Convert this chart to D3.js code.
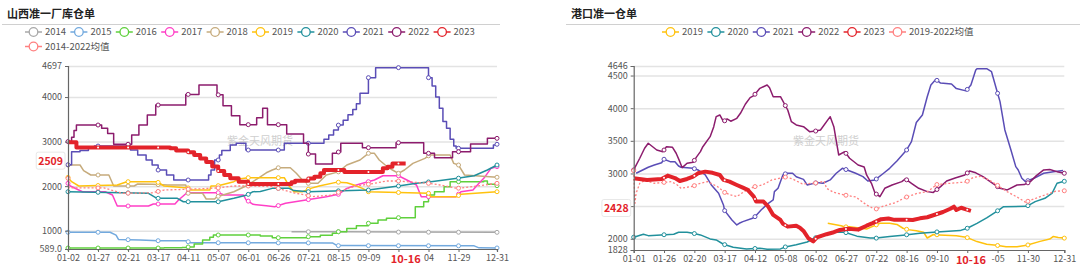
<!DOCTYPE html>
<html>
<head>
<meta charset="utf-8">
<script src="https://cdn.jsdelivr.net/npm/d3@7"></script>
<style>
  body { margin: 0; background: #fff; }
  svg { display: block; font-family: "Noto Sans CJK SC", "Noto Sans", sans-serif; }
</style>
</head>
<body>
<svg id="chart" width="1080" height="271"></svg>
<script>
// ---------- left panel: 山西准一厂库仓单 ----------
const leftTickIdx = [0, 25, 50, 75, 100, 125, 150, 175, 200, 225, 250, 275, 300, 325, 357];
// the label under "10-16" is covered in the original, only "04" of the next one shows
const leftTickLabels = ["01-02", "01-27", "02-21", "03-17", "04-11", "05-07", "06-01", "06-26",
  "07-21", "08-15", "09-09", "", "04", "11-29", "12-31"];
const leftYTicks = [589, 1000, 2000, 3000, 4000, 4697];

const L2014 = [[186, 977], [230, 975], [280, 968], [357, 963]];
const L2015 = [[0, 965], [35, 965], [40, 900], [42, 805], [60, 790], [75, 775], [98, 775], [102, 730],
  [220, 725], [224, 665], [338, 660], [342, 615], [357, 612]];
const L2016 = [[0, 611], [80, 615], [95, 625], [100, 634], [105, 700], [112, 791], [118, 850], [121, 903],
  [155, 903], [160, 880], [170, 842], [195, 842], [200, 865], [210, 900], [220, 940], [224, 977],
  [232, 1050], [240, 1111], [250, 1166], [258, 1240], [265, 1278], [275, 1292], [289, 1538],
  [296, 1650], [300, 1801], [305, 1875], [313, 1987], [318, 2100], [346, 2115], [349, 2042], [357, 2010]];
const L2017 = [[0, 2063], [2, 2003], [12, 1875], [31, 1875], [37, 1801], [41, 1554], [67, 1554], [71, 1599],
  [89, 1599], [92, 1689], [99, 1853], [125, 1853], [130, 1801], [146, 1801], [148, 1700], [154, 1592],
  [165, 1560], [172, 1538], [181, 1614], [198, 1689], [215, 1763], [225, 1817], [232, 1950], [240, 2025],
  [255, 2138], [262, 2234], [275, 2234], [282, 2138], [290, 2025], [294, 1763], [323, 1763], [327, 1875],
  [337, 1913], [342, 2063], [346, 2175], [352, 2400], [357, 2437]];
const L2018 = [[0, 2474], [10, 2474], [13, 2347], [19, 2250], [34, 2250], [38, 2003], [55, 2003], [58, 2048],
  [70, 2040], [83, 2025], [98, 2025], [100, 1840], [112, 1840], [115, 1711], [122, 1711], [124, 1763],
  [138, 1875], [148, 2003], [160, 2210], [165, 2300], [170, 2362], [175, 2412], [185, 2412], [190, 2288],
  [195, 2138], [200, 2063], [208, 2063], [215, 2250], [225, 2320], [232, 2474], [243, 2587], [250, 2737],
  [255, 2737], [259, 2587], [264, 2474], [270, 2362], [275, 2288], [280, 2362], [287, 2512], [297, 2624],
  [301, 2699], [318, 2699], [321, 2512], [325, 2474], [330, 2250], [357, 2200]];
const L2019 = [[0, 2197], [3, 2100], [9, 2003], [41, 2025], [49, 2100], [74, 2100], [80, 2003], [100, 1960],
  [102, 1913], [118, 1913], [119, 2003], [125, 2010], [138, 2100], [142, 2160], [150, 2190], [180, 2190],
  [184, 2003], [188, 1875], [195, 1875], [202, 1950], [209, 2003], [224, 2090], [232, 2078], [238, 2025],
  [245, 1950], [250, 1875], [300, 1840], [302, 1763], [323, 1763], [327, 1817], [357, 1875]];
const L2020 = [[0, 1875], [67, 1839], [74, 1727], [91, 1727], [96, 1650], [125, 1650], [138, 1727],
  [149, 1801], [154, 1875], [160, 1880], [170, 1950], [184, 1950], [188, 1900], [200, 1875], [250, 1913],
  [275, 2003], [290, 2063], [302, 2100], [324, 2175], [338, 2234], [349, 2362], [357, 2474]];
const L2021 = [[0, 2480], [3, 2773], [10, 2800], [17, 2870], [22, 2900], [50, 2900], [52, 2811], [58, 2699],
  [65, 2587], [70, 2474], [75, 2362], [82, 2250], [88, 2138], [115, 2138], [117, 2250], [119, 2360],
  [122, 2587], [126, 2700], [128, 2800], [135, 2923], [140, 2962], [148, 2811], [180, 2962], [210, 2962],
  [213, 3050], [217, 3150], [221, 3260], [225, 3370], [229, 3480], [233, 3600], [237, 3720], [240, 3850],
  [243, 4084], [250, 4435], [256, 4660], [298, 4660], [300, 4435], [303, 4250], [306, 4000], [309, 3750],
  [312, 3450], [315, 3300], [318, 3050], [321, 2900], [323, 2850], [350, 2850], [354, 2923], [357, 2940]];
const L2022 = [[0, 3000], [3, 3100], [5, 3250], [7, 3372], [28, 3300], [33, 3180], [38, 2940], [53, 3148],
  [59, 3372], [66, 3597], [73, 3821], [98, 4060], [109, 4270], [124, 4050], [129, 3806], [136, 3581],
  [143, 3380], [157, 3536], [162, 3747], [166, 3380], [182, 3170], [196, 2962], [200, 2720], [206, 2497],
  [220, 2737], [225, 2766], [227, 2962], [245, 2863], [273, 2975], [296, 2737], [305, 2638], [320, 2773],
  [335, 2946], [349, 3073], [357, 3073]];
const L2023 = [[0, 2985], [7, 2870], [85, 2850], [90, 2800], [100, 2760], [105, 2700], [110, 2620],
  [115, 2540], [120, 2440], [125, 2340], [130, 2250], [135, 2175], [142, 2100], [150, 2048], [186, 2090],
  [189, 2122], [200, 2170], [205, 2212], [210, 2288], [213, 2362], [230, 2320], [262, 2400], [266, 2437],
  [270, 2509], [281, 2509]];
const LAvg = [[0, 2175], [1, 1960], [30, 1960], [40, 1880], [45, 1840], [70, 1850], [80, 1913], [110, 1940],
  [125, 1960], [138, 2003], [150, 2003], [170, 1990], [187, 1853], [198, 1801], [203, 1763], [220, 1801],
  [225, 1860], [233, 1950], [240, 2003], [255, 2063], [265, 2115], [275, 2115], [300, 2063], [310, 2025],
  [324, 1950], [340, 2003], [357, 2063]];

// ---------- right panel: 港口准一仓单 ----------
const rightTickIdx = [0, 25, 50, 75, 100, 125, 150, 175, 200, 225, 250, 275, 300, 325, 355];
const rightTickLabels = ["01-01", "01-26", "02-20", "03-17", "04-12", "05-08", "06-02", "06-27",
  "07-22", "08-16", "09-10", "", "-05", "11-30", "12-31"];
const rightYTicks = [1828, 2000, 2500, 3000, 3500, 4000, 4500, 4646];

const R2019 = [[160, 2237], [171, 2200], [174, 2181], [178, 2186], [192, 2150], [199, 2205], [203, 2237],
  [211, 2237], [217, 2220], [222, 2161], [226, 2140], [233, 2122], [239, 2100], [242, 2012], [247, 2065],
  [252, 2059], [266, 2045], [274, 2025], [283, 1957], [291, 1916], [299, 1900], [307, 1878], [316, 1878],
  [324, 1900], [335, 1960], [343, 1995], [346, 2035], [350, 2020], [355, 2010]];
const R2020 = [[0, 2024], [8, 2070], [12, 2048], [33, 2070], [37, 2100], [44, 2100], [49, 2084], [55, 2059],
  [63, 1998], [68, 1982], [74, 1916], [82, 1870], [93, 1844], [104, 1855], [110, 1840], [121, 1845],
  [125, 1875], [134, 1910], [143, 1950], [148, 2000], [156, 2060], [167, 2100], [174, 2100], [184, 2040],
  [195, 2010], [200, 2010], [211, 2035], [222, 2055], [236, 2084], [250, 2105], [269, 2125], [275, 2161],
  [283, 2237], [291, 2320], [299, 2416], [305, 2492], [324, 2497], [331, 2569], [339, 2620], [345, 2700],
  [349, 2850], [355, 2880]];
const R2021 = [[2, 3003], [12, 3095], [17, 3130], [23, 3165], [25, 3218], [30, 3181], [34, 3181], [37, 3115],
  [39, 3095], [49, 3080], [53, 3054], [59, 2977], [64, 2824], [70, 2697], [74, 2518], [75, 2431], [81, 2288],
  [85, 2212], [87, 2237], [90, 2262], [98, 2313], [100, 2339], [105, 2441], [111, 2543], [115, 2594],
  [116, 2722], [119, 2773], [123, 2977], [126, 3003], [131, 3003], [134, 2950], [140, 2910], [143, 2824],
  [151, 2860], [156, 2850], [162, 2901], [167, 3003], [172, 3079], [176, 3054], [183, 3003], [189, 2952],
  [193, 2885], [199, 2901], [206, 3003], [211, 3079], [217, 3191], [225, 3360], [229, 3487], [233, 3780],
  [238, 3896], [242, 4176], [245, 4355], [249, 4440], [253, 4385], [262, 4370], [266, 4300], [274, 4265],
  [278, 4355], [282, 4585], [283, 4605], [291, 4605], [295, 4559], [300, 4228], [302, 4100], [306, 3666],
  [311, 3360], [315, 3105], [317, 3054], [320, 2926], [323, 2875], [330, 2926], [338, 3003], [346, 3028],
  [354, 3044]];
const R2022 = [[0, 3054], [5, 3233], [9, 3386], [12, 3463], [19, 3360], [24, 3334], [27, 3410], [32, 3400],
  [35, 3310], [38, 3181], [40, 3089], [44, 3157], [49, 3172], [52, 3258], [55, 3334], [57, 3410], [63, 3564],
  [66, 3717], [68, 3870], [71, 3896], [74, 3793], [77, 3835], [80, 3800], [85, 3845], [88, 3922], [92, 4060],
  [96, 4161], [99, 4191], [104, 4304], [110, 4355], [112, 4314], [115, 4176], [121, 4176], [127, 3972],
  [130, 3793], [134, 3743], [140, 3717], [145, 3640], [150, 3650], [154, 3666], [162, 3870], [165, 3717],
  [169, 3283], [174, 3334], [178, 3233], [185, 3130], [190, 3100], [192, 2977], [196, 2850], [199, 2697],
  [203, 2646], [207, 2773], [213, 2824], [221, 2875], [224, 2916], [229, 2850], [235, 2773], [242, 2722],
  [247, 2710], [253, 2799], [258, 2885], [265, 2930], [273, 2977], [277, 3039], [282, 3010], [288, 2952],
  [296, 2850], [302, 2773], [308, 2748], [316, 2824], [322, 2830], [327, 2875], [332, 2967], [338, 3054],
  [343, 3060], [349, 3028], [355, 3003]];
const R2023 = [[0, 2926], [11, 2901], [23, 2916], [28, 2967], [34, 2930], [38, 2885], [44, 2916], [49, 2952],
  [53, 3003], [59, 3028], [65, 3010], [71, 2977], [74, 2901], [79, 2875], [85, 2824], [90, 2783], [94, 2748],
  [99, 2646], [101, 2569], [107, 2569], [111, 2492], [115, 2365], [121, 2288], [123, 2230], [127, 2186],
  [134, 2200], [137, 2170], [140, 2120], [144, 2008], [148, 1960], [151, 2020], [159, 2070], [165, 2100],
  [170, 2135], [177, 2155], [185, 2140], [192, 2200], [197, 2240], [204, 2300], [210, 2310], [215, 2290],
  [225, 2290], [230, 2288], [236, 2313], [242, 2330], [247, 2360], [255, 2410], [261, 2460], [264, 2492],
  [266, 2441], [270, 2475], [274, 2450], [278, 2428]];
const RAvg = [[0, 3043], [1, 2543], [2, 2697], [5, 2850], [9, 2890], [17, 2850], [23, 2860], [31, 2875],
  [36, 2824], [39, 2773], [49, 2805], [53, 2840], [61, 2875], [69, 2799], [75, 2710], [80, 2671], [85, 2646],
  [91, 2722], [99, 2795], [106, 2824], [114, 2901], [125, 2945], [131, 2916], [139, 2840], [149, 2850],
  [157, 2880], [159, 2773], [165, 2710], [174, 2670], [183, 2640], [192, 2518], [199, 2450], [206, 2500],
  [216, 2555], [224, 2633], [234, 2697], [242, 2720], [250, 2830], [258, 2845], [274, 2870], [280, 2940],
  [286, 2955], [293, 2901], [299, 2830], [307, 2730], [316, 2640], [323, 2560], [330, 2610], [339, 2671],
  [348, 2728], [355, 2735]];

const lastDateLabel = "10-16";

const colors = {
  "2014": "#a8a8a8", "2015": "#72a9de", "2016": "#5fd03c", "2017": "#ff3fc6", "2018": "#c6ab7c",
  "2019": "#ffc20e", "2020": "#21909c", "2021": "#5a4db6", "2022": "#8c1c6d", "2023": "#e3232a",
  "avg": "#ff8080"
};

const svg = d3.select("#chart");

function valueAt(data, idx, step) {
  if (idx < data[0][0] || idx > data[data.length - 1][0]) return null;
  for (let i = 0; i < data.length - 1; i++) {
    const a = data[i], b = data[i + 1];
    if (idx >= a[0] && idx <= b[0]) {
      if (step) return idx === b[0] ? b[1] : a[1];
      return a[1] + (b[1] - a[1]) * (idx - a[0]) / (b[0] - a[0]);
    }
  }
  return data[data.length - 1][1];
}

function drawLegend(items, x0, y0, perRow) {
  items.forEach((it, i) => {
    const x = x0 + (i % perRow) * 45.4;
    const y = y0 + Math.floor(i / perRow) * 14.5;
    const g = svg.append("g").attr("transform", `translate(${x},${y})`);
    g.append("line").attr("x1", 0).attr("x2", 17).attr("y1", 0).attr("y2", 0)
      .attr("stroke", it.color).attr("stroke-width", 1.5);
    g.append("circle").attr("cx", 8.5).attr("cy", 0).attr("r", 4.3)
      .attr("fill", "#fff").attr("stroke", it.color).attr("stroke-width", 1.3);
    g.append("text").attr("x", 20).attr("y", 0).attr("dy", "0.35em")
      .attr("font-size", 9.5).attr("fill", "#555").text(it.name);
  });
}

function drawPanel(p) {
  // title and separator
  svg.append("text").attr("x", p.titleX).attr("y", 14).attr("dy", "0.35em")
    .attr("font-size", 11).attr("font-weight", "bold").attr("fill", "#222").text(p.title);
  svg.append("line").attr("x1", p.sepX[0]).attr("x2", p.sepX[1]).attr("y1", 24.5).attr("y2", 24.5)
    .attr("stroke", "#d0d0d0").attr("stroke-width", 1);

  const x = d3.scaleLinear().domain([0, p.xMax]).range(p.xRange);
  const y = d3.scaleLinear().domain([p.yTicks[0], p.yTicks[p.yTicks.length - 1]]).range(p.yRange);
  const w = p.xRange[1] - p.xRange[0];

  // gridlines
  const grid = svg.append("g").attr("transform", `translate(${p.xRange[0]},0)`)
    .call(d3.axisLeft(y).tickValues(p.yTicks.slice(1)).tickSize(-w).tickFormat(""));
  grid.select(".domain").remove();
  grid.selectAll(".tick line").attr("stroke", "#e3e3e3").attr("stroke-width", 1.5);

  // watermark
  svg.append("text").attr("x", p.markX).attr("y", 141).attr("dy", "0.35em").attr("text-anchor", "middle")
    .attr("font-size", 11).attr("fill", "#cfcfcf").text("紫金天风期货");

  // series
  p.series.forEach(s => {
    const thick = (s.width || 1.5) > 2;
    const line = d3.line().x(d => x(d[0])).y(d => y(d[1]))
      .curve(s.step ? d3.curveStepAfter : d3.curveLinear);
    svg.append("path").datum(s.data).attr("d", line).attr("fill", "none")
      .attr("stroke", s.color).attr("stroke-width", s.width || 1.5)
      .attr("stroke-dasharray", s.dash || null).attr("stroke-linejoin", "round");
    p.tickIdx.forEach(t => {
      const v = valueAt(s.data, t, s.step);
      if (v === null) return;
      svg.append("circle").attr("cx", x(t)).attr("cy", y(v)).attr("r", thick ? 1 : 2)
        .attr("fill", "#fff").attr("stroke", thick ? "none" : s.color).attr("stroke-width", 1);
    });
  });

  // axes
  const yAxis = svg.append("g").attr("transform", `translate(${p.xRange[0]},0)`)
    .call(d3.axisLeft(y).tickValues(p.yTicks).tickSize(3).tickPadding(3)
      .tickFormat(d => p.hiddenY.includes(d) ? "" : (d === p.yTicks[0] && p.minDecimal ? d.toFixed(1) : d)));
  const xAxis = svg.append("g").attr("transform", `translate(0,${p.yRange[0]})`)
    .call(d3.axisBottom(x).tickValues(p.tickIdx).tickSize(3).tickPadding(3)
      .tickFormat((d, i) => p.tickLabels[i]));
  [yAxis, xAxis].forEach(a => {
    a.select(".domain").attr("stroke", "#666").attr("stroke-width", 1.2);
    a.selectAll(".tick line").attr("stroke", "#666");
    a.selectAll(".tick text").attr("fill", "#555").attr("font-size", 9)
      .attr("font-family", "'Noto Sans CJK SC', 'Noto Sans', sans-serif");
  });

  // last value label on y axis
  const cur = p.current[p.current.length - 1];
  const ly = y(cur[1]) - 2;
  const lbl = svg.append("g");
  const t = lbl.append("text").attr("x", p.xRange[0] - 5).attr("y", ly).attr("dy", "0.35em")
    .attr("text-anchor", "end").attr("font-size", 10.5).attr("font-weight", "bold")
    .attr("fill", "#e3232a").text(cur[1]);
  const bb = t.node().getBBox();
  lbl.insert("rect", "text").attr("x", bb.x - 2).attr("y", bb.y - 1).attr("width", bb.width + 4)
    .attr("height", bb.height + 2).attr("rx", 2).attr("fill", "#fff").attr("stroke", "#e8e8e8");

  // last date label on x axis
  const dx = x(cur[0]);
  svg.append("text").attr("x", dx).attr("y", p.yRange[0] + 10.5).attr("dy", "0.35em")
    .attr("text-anchor", "middle").attr("font-size", 11).attr("font-weight", "bold")
    .attr("fill", "#e3232a").text(lastDateLabel);
}

const leftSeries = [
  { name: "2014", data: L2014 }, { name: "2015", data: L2015 }, { name: "2016", data: L2016, step: true },
  { name: "2017", data: L2017 }, { name: "2018", data: L2018 }, { name: "2019", data: L2019 },
  { name: "2020", data: L2020 }, { name: "2021", data: L2021, step: true },
  { name: "2022", data: L2022, step: true },
  { name: "2014-2022均值", key: "avg", data: LAvg, dash: "2,2", width: 1.3 },
  { name: "2023", data: L2023, step: true, width: 4 }
].map(s => ({ ...s, color: colors[s.key || s.name] }));

const rightSeries = [
  { name: "2019", data: R2019 }, { name: "2020", data: R2020 }, { name: "2021", data: R2021 },
  { name: "2022", data: R2022 },
  { name: "2019-2022均值", key: "avg", data: RAvg, dash: "2,2", width: 1.3 },
  { name: "2023", data: R2023, width: 4 }
].map(s => ({ ...s, color: colors[s.key || s.name] }));

drawPanel({
  title: "山西准一厂库仓单", titleX: 7, sepX: [2, 500], markX: 260,
  xRange: [68, 497], yRange: [249, 66], xMax: 357,
  yTicks: leftYTicks, minDecimal: true, hiddenY: [],
  tickIdx: leftTickIdx, tickLabels: leftTickLabels,
  series: leftSeries, current: L2023
});
drawPanel({
  title: "港口准一仓单", titleX: 571, sepX: [566, 1080], markX: 826,
  xRange: [633.7, 1064.3], yRange: [250, 66], xMax: 355,
  yTicks: rightYTicks, minDecimal: false, hiddenY: [2500],
  tickIdx: rightTickIdx, tickLabels: rightTickLabels,
  series: rightSeries, current: R2023
});

const leftLegendOrder = ["2014", "2015", "2016", "2017", "2018", "2019", "2020", "2021", "2022", "2023", "2014-2022均值"];
const rightLegendOrder = ["2019", "2020", "2021", "2022", "2023", "2019-2022均值"];
drawLegend(leftLegendOrder.map(n => leftSeries.find(s => s.name === n)), 25, 32, 10);
drawLegend(rightLegendOrder.map(n => rightSeries.find(s => s.name === n)), 662, 32, 6);
</script>
</body>
</html>
